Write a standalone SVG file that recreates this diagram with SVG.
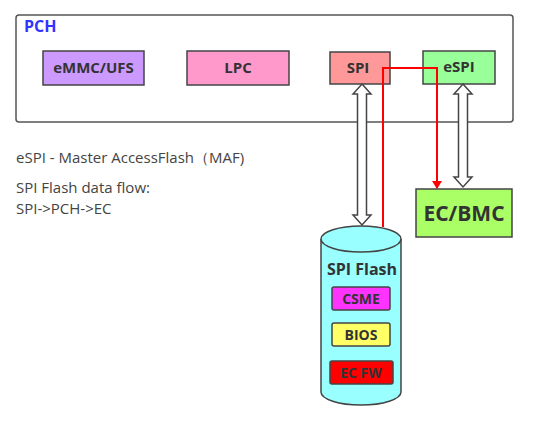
<svg xmlns="http://www.w3.org/2000/svg" width="543" height="421" viewBox="0 0 543 421">
<style>
.box{stroke:#444;stroke-width:1.5}
.lbl{font-family:"Open Sans","Noto Sans",sans-serif;font-weight:bold;fill:#333;text-anchor:middle}
.note{font-family:"Open Sans","Noto Sans",sans-serif;font-size:15px;fill:#444}
.dbl{fill:#fff;stroke:#444;stroke-width:1.5}
</style>
<defs>
<marker id="ah" markerWidth="8" markerHeight="10" refX="7" refY="5" orient="auto" markerUnits="userSpaceOnUse">
<path d="M0,0 L8,5 L0,10 z" fill="#ff0000"/>
</marker>
</defs>
<rect width="543" height="421" fill="#fff"/>
<g id="pch">
<rect x="16" y="15" width="497" height="107" rx="3" fill="#fff" stroke="#555" stroke-width="1.5"/>
<text x="24" y="32" font-family="Open Sans, Noto Sans, sans-serif" font-weight="bold" font-size="16" fill="#3333ff">PCH</text>
</g>
<g id="emmc">
<rect class="box" x="43" y="51" width="101" height="34" fill="#cc99ff"/>
<text class="lbl" x="93.5" y="73" font-size="15">eMMC/UFS</text>
</g>
<g id="lpc">
<rect class="box" x="187" y="51" width="102" height="34" fill="#ff99cc"/>
<text class="lbl" x="238" y="73" font-size="15">LPC</text>
</g>
<g id="spi">
<rect class="box" x="330" y="52" width="60" height="32" fill="#ff9999"/>
<text class="lbl" x="358" y="73" font-size="15">SPI</text>
</g>
<g id="espi">
<rect class="box" x="423" y="51" width="72" height="33" fill="#99ff99"/>
<text class="lbl" x="459" y="72" font-size="15">eSPI</text>
</g>
<g id="ecbmc">
<rect class="box" x="416" y="189" width="96" height="48" fill="#aaff66"/>
<text class="lbl" x="464" y="221" font-size="21">EC/BMC</text>
</g>
<g id="spiflash">
<path d="M321,239 L321,392 A40,13 0 0 0 401,392 L401,239" fill="#99ffff" stroke="#444" stroke-width="1.5"/>
<ellipse cx="361" cy="239" rx="40" ry="13" fill="#99ffff" stroke="#444" stroke-width="1.5"/>
<text class="lbl" x="362" y="275" font-size="16">SPI Flash</text>
<g id="csme">
<rect class="box" x="332" y="287" width="58" height="23" rx="2" fill="#ff33ff"/>
<text class="lbl" x="361" y="304" font-size="14">CSME</text>
</g>
<g id="bios">
<rect class="box" x="332" y="323" width="58" height="23" rx="2" fill="#ffff66"/>
<text class="lbl" x="361" y="340" font-size="14">BIOS</text>
</g>
<g id="ecfw">
<rect class="box" x="330" y="361" width="63" height="23" rx="2" fill="#ff0000"/>
<text class="lbl" x="361" y="378" font-size="14">EC FW</text>
</g>
</g>
<g id="connectors">
<polygon class="dbl" points="362,84 371,94 366.5,94 366.5,215 371,215 362,225 353,215 357.5,215 357.5,94 353,94"/>
<polygon class="dbl" points="463,84 472,94 467.5,94 467.5,177 472,177 463,187 454,177 458.5,177 458.5,94 454,94"/>
<polyline points="383,227 383,68 437,68 437,188" fill="none" stroke="#ff0000" stroke-width="2" marker-end="url(#ah)"/>
</g>
<g id="notes">
<text class="note" x="16" y="163">eSPI - Master AccessFlash（MAF)</text>
<text class="note" x="16" y="193">SPI Flash data flow:</text>
<text class="note" x="16" y="214">SPI-&gt;PCH-&gt;EC</text>
</g>
</svg>
